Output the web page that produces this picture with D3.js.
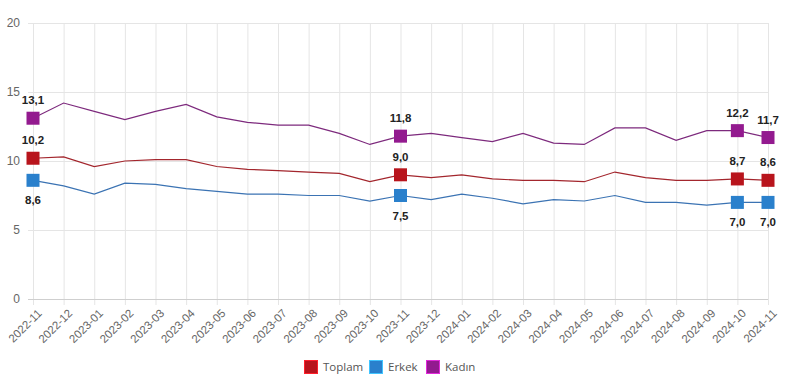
<!DOCTYPE html>
<html>
<head>
<meta charset="utf-8">
<script src="https://cdn.jsdelivr.net/npm/d3@7"></script>
<style>
  body { margin: 0; background: #fff; }
  svg { display: block; font-family: "Open Sans", "Noto Sans", sans-serif; }
  .grid line { stroke: #e5e5e5; stroke-width: 1; }
  .tick text { fill: #666; }
</style>
</head>
<body>
<svg width="789" height="387"></svg>
<script>
var months = ["2022-11","2022-12","2023-01","2023-02","2023-03","2023-04","2023-05","2023-06","2023-07","2023-08","2023-09","2023-10","2023-11","2023-12","2024-01","2024-02","2024-03","2024-04","2024-05","2024-06","2024-07","2024-08","2024-09","2024-10","2024-11"];
var toplam = [10.2,10.3,9.6,10.0,10.1,10.1,9.6,9.4,9.3,9.2,9.1,8.5,9.0,8.8,9.0,8.7,8.6,8.6,8.5,9.2,8.8,8.6,8.6,8.7,8.6];
var erkek  = [8.6,8.2,7.6,8.4,8.3,8.0,7.8,7.6,7.6,7.5,7.5,7.1,7.5,7.2,7.6,7.3,6.9,7.2,7.1,7.5,7.0,7.0,6.8,7.0,7.0];
var kadin  = [13.1,14.2,13.6,13.0,13.6,14.1,13.2,12.8,12.6,12.6,12.0,11.2,11.8,12.0,11.7,11.4,12.0,11.3,11.2,12.4,12.4,11.5,12.2,12.2,11.7];
var yTicks = [0, 5, 10, 15, 20];
var labelled = ["2022-11", "2023-11", "2024-10", "2024-11"];

var series = [
  {name: "Toplam", values: toplam, color: "#b8141c", line: "#a3262d", pos: "above"},
  {name: "Erkek",  values: erkek,  color: "#2a80cc", line: "#3b73b3", pos: "below"},
  {name: "Kadın",  values: kadin,  color: "#931a8f", line: "#7d2a7d", pos: "above"}
];

var svg = d3.select("svg"),
    margin = {top: 23, right: 21, bottom: 88, left: 33},
    width = +svg.attr("width") - margin.left - margin.right,
    height = +svg.attr("height") - margin.top - margin.bottom;

var x = d3.scalePoint().domain(months).range([0, width]);
var y = d3.scaleLinear().domain([0, 20]).range([height, 0]);

var g = svg.append("g").attr("transform", "translate(" + margin.left + "," + margin.top + ")");

// grid
g.append("g").attr("class", "grid")
  .selectAll("line.v").data(months).enter().append("line")
  .attr("x1", function(d) { return x(d) + 0.5; })
  .attr("x2", function(d) { return x(d) + 0.5; })
  .attr("y1", 0).attr("y2", height + 6);

g.append("g").attr("class", "grid")
  .selectAll("line.h").data(yTicks).enter().append("line")
  .attr("x1", -5).attr("x2", width)
  .attr("y1", function(d) { return Math.round(y(d)) + 0.5; })
  .attr("y2", function(d) { return Math.round(y(d)) + 0.5; })
  .style("stroke", function(d) { return d == 0 ? "#cfcfcf" : null; });

// y axis labels
var ya = g.append("g")
  .call(d3.axisLeft(y).tickValues(yTicks).tickSize(0).tickPadding(13));
ya.select(".domain").remove();
ya.selectAll("text").style("font-size", "12px").style("fill", "#666");

// x axis labels
var xa = g.append("g")
  .attr("transform", "translate(0," + height + ")")
  .call(d3.axisBottom(x).tickSize(0));
xa.select(".domain").remove();
xa.selectAll("text")
  .style("font-size", "11.5px").style("fill", "#666")
  .attr("text-anchor", "end")
  .attr("dy", "0.35em")
  .attr("transform", "translate(4,10) rotate(-45)");

// lines
var line = d3.line()
  .x(function(d, i) { return x(months[i]); })
  .y(function(d) { return y(d); });

series.forEach(function(s) {
  g.append("path")
    .datum(s.values)
    .attr("fill", "none")
    .attr("stroke", s.line)
    .attr("stroke-width", 1.2)
    .attr("d", line);
});

// markers + labels
series.forEach(function(s) {
  var pts = months.map(function(m, i) { return {m: m, v: s.values[i]}; })
    .filter(function(d) { return labelled.indexOf(d.m) >= 0; });

  g.selectAll(null).data(pts).enter().append("rect")
    .attr("x", function(d) { return x(d.m) - 6.5; })
    .attr("y", function(d) { return y(d.v) - 6.5; })
    .attr("width", 13).attr("height", 13)
    .attr("fill", s.color);

  g.selectAll(null).data(pts).enter().append("text")
    .attr("x", function(d) { return x(d.m); })
    .attr("y", function(d) { return s.pos == "above" ? y(d.v) - 14 : y(d.v) + 24; })
    .attr("text-anchor", "middle")
    .style("font-family", "'Liberation Sans', Arial, sans-serif")
    .style("font-weight", "bold")
    .style("font-size", "11.5px")
    .style("fill", "#222")
    .text(function(d) { return d.v.toFixed(1).replace(".", ","); });
});

// legend
var legend = svg.append("g").attr("transform", "translate(0,367)");
var lx = [304, 369, 426];
series.forEach(function(s, i) {
  var it = legend.append("g").attr("transform", "translate(" + lx[i] + ",0)");
  it.append("rect")
    .attr("x", 0.5).attr("y", -6.5).attr("width", 13).attr("height", 13)
    .attr("fill", s.color)
    .attr("stroke", d3.color(s.color).brighter(1.2))
    .attr("stroke-width", 1);
  it.append("text")
    .attr("x", 19).attr("y", 0).attr("dy", "0.35em")
    .style("font-size", "11.5px").style("fill", "#555")
    .text(s.name);
});
</script>
</body>
</html>
